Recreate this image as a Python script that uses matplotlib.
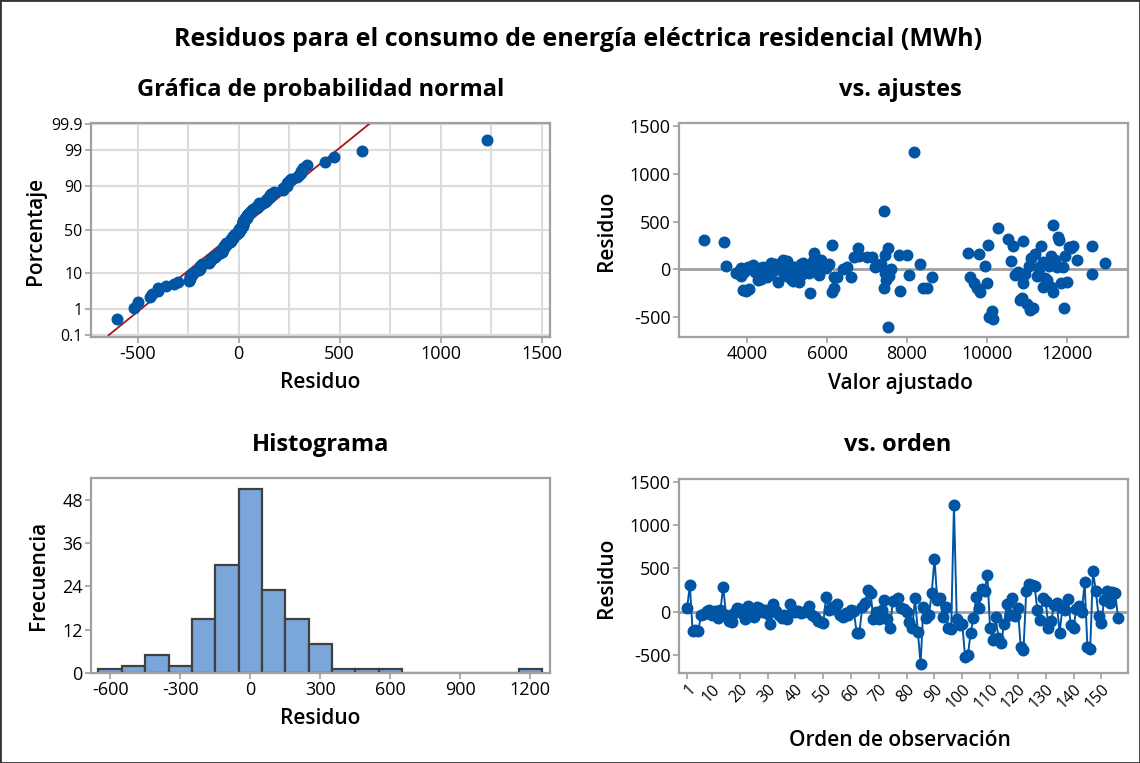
import matplotlib
matplotlib.use("Agg")
import matplotlib.pyplot as plt
import numpy as np
from statistics import NormalDist
from matplotlib.patches import Rectangle

plt.rcParams["font.family"] = ["Open Sans", "DejaVu Sans"]
plt.rcParams["axes.unicode_minus"] = False

residuals = [
    40, 310, -220, -210, -225, -40, -20, 10, 20, -30, 15, -70,
    20, 290, -30, -100, -115, -10, 45, 30, -20, -80, 70, 10,
    -60, 60, 40, 0, 20, -20, -135, 95, 10, -30, -70, -40,
    -80, 90, 20, 0, 10, -10, 0, 20, 65, -30, -60, -100,
    -120, -130, 175, 20, 55, 30, 90, -40, -55, -10, -40, 20,
    10, -245, -240, 55, 100, 255, 220, -80, 0, -80, 20, 135,
    -80, -190, 130, 140, 155, 45, 30, 0, -115, -190, 155, -230,
    -600, 55, -70, -40, 220, 610, 135, 155, -60, 60, -190, -195,
    1230, -80, -145, -140, -520, -500, -240, -75, 175, 40, 260, 240,
    430, -190, -320, -60, -300, -360, -140, 90, -30, 160, -45, 40,
    -400, -440, 240, 320, 310, 300, 20, -90, 160, 120, -180, -110,
    80, 100, -240, 40, 20, 145, -145, -180, 30, 70, 0, 340,
    -400, -430, 470, 245, -45, -130, 140, 240, 100, 230, 220, -70,
]

fitted = [
    3470, 2920, 3890, 4050, 3960, 3720, 3780, 3850, 4010, 3920, 4110, 3830,
    4080, 3400, 4200, 4350, 4270, 3950, 4150, 4400, 4230, 4480, 4600, 4320,
    4550, 4700, 4650, 4380, 4820, 4500, 4760, 4900, 4850, 4620, 5000, 4950,
    5100, 4980, 5150, 4780, 5250, 5050, 5300, 5200, 5400, 4900, 5350, 5080,
    5150, 5300, 5680, 5600, 5350, 5520, 5650, 5420, 5800, 5700, 5550, 5900,
    5980, 5570, 6110, 6050, 5850, 6130, 6780, 6250, 6400, 6180, 6500, 7120,
    6600, 6175, 6660, 6800, 7460, 7300, 7200, 7600, 7480, 7420, 7800, 7826,
    7530, 7350, 7550, 7450, 7530, 7420, 7000, 7990, 8040, 8330, 8390, 8500,
    8175, 8630, 9690, 10010, 10150, 10050, 9830, 9570, 9530, 9950, 10040, 10650,
    10290, 9760, 10830, 10700, 10880, 11000, 10900, 10600, 10780, 9810, 10950, 11050,
    11160, 10120, 11350, 10540, 11820, 10900, 11300, 11450, 11200, 11100, 11600, 11500,
    11400, 11700, 11650, 11550, 11750, 11620, 11850, 11400, 11900, 12960, 11300, 11780,
    11940, 11080, 11660, 12165, 12650, 12000, 11950, 12650, 12260, 12070, 12100, 11250,
]

observation = list(range(1, len(residuals) + 1))
hist_edges = list(range(-650, 1251, 100))
prob_ticks = [0.1, 1, 10, 50, 90, 99, 99.9]
prob_labels = ["0.1", "1", "10", "50", "90", "99", "99.9"]
order_ticks = [1, 10, 20, 30, 40, 50, 60, 70, 80, 90, 100, 110, 120, 130, 140, 150]

BLUE = "#0055A5"
RED = "#A3161B"
FRAME = "#A0A0A0"
GRID = "#DCDCDC"
BAR = "#7BA6DA"
MS = 7.6


def style_axes(ax):
    for sp in ax.spines.values():
        sp.set_color(FRAME)
        sp.set_linewidth(1.6)
    ax.tick_params(axis="both", colors=FRAME, labelcolor="black",
                   labelsize=13, length=4, width=1.2, pad=2)


fig = plt.figure(figsize=(11.4, 7.63), dpi=100)
W, H = 1140, 763


def px_axes(left, top, right, bottom):
    return fig.add_axes([left / W, 1 - bottom / H, (right - left) / W, (bottom - top) / H])


# --- grafica de probabilidad normal ---
ax1 = px_axes(91, 123, 550, 337)
style_axes(ax1)
nd = NormalDist()
res_sorted = np.sort(residuals)
n = len(res_sorted)
pct = (np.arange(1, n + 1) - 0.3) / (n + 0.4)
z = np.array([nd.inv_cdf(p) for p in pct])
mu = np.mean(residuals)
sd = np.std(residuals, ddof=1)
zl = np.array([nd.inv_cdf(0.001), nd.inv_cdf(0.999)])
ax1.plot(mu + zl * sd, zl, color=RED, lw=1.3, zorder=2)
ax1.plot(res_sorted, z, "o", color=BLUE, ms=MS, mec=BLUE, zorder=3)
ax1.set_xlim(-731, 1542)
ax1.set_ylim(-3.14, 3.12)
ax1.set_xticks([-500, 0, 500, 1000, 1500])
ax1.set_xticks([-250, 250, 750, 1250], minor=True)
ax1.tick_params(axis="x", which="minor", length=0)
ax1.set_yticks([nd.inv_cdf(p / 100) for p in prob_ticks])
ax1.set_yticklabels(prob_labels, fontsize=11.5)
ax1.grid(True, which="both", color=GRID, lw=1.5, zorder=0)
ax1.set_axisbelow(True)

# --- vs. ajustes ---
ax2 = px_axes(679, 123, 1128, 337)
style_axes(ax2)
ax2.axhline(0, color=FRAME, lw=2, zorder=1)
ax2.plot(fitted, residuals, "o", color=BLUE, ms=MS, mec=BLUE, zorder=3)
ax2.set_xlim(2284, 13541)
ax2.set_ylim(-709, 1535)
ax2.set_xticks([4000, 6000, 8000, 10000, 12000])
ax2.set_yticks([-500, 0, 500, 1000, 1500])

# --- histograma ---
ax3 = px_axes(91, 478, 550, 673)
style_axes(ax3)
ax3.hist(residuals, bins=hist_edges, color=BAR, edgecolor="#404040", linewidth=1.6, zorder=2)
ax3.set_xlim(-682, 1284)
ax3.set_ylim(0, 54.1)
ax3.set_xticks([-600, -300, 0, 300, 600, 900, 1200])
ax3.set_yticks([0, 12, 24, 36, 48])

# --- vs. orden ---
ax4 = px_axes(679, 479, 1128, 673)
style_axes(ax4)
ax4.axhline(0, color=FRAME, lw=2, zorder=1)
ax4.plot(observation, residuals, "-o", color=BLUE, lw=1.4, ms=MS, mec=BLUE, zorder=3)
ax4.set_xlim(-1.9, 159.6)
ax4.set_ylim(-703, 1530)
ax4.set_xticks(order_ticks)
ax4.set_xticklabels([str(t) for t in order_ticks], rotation=45, ha="right",
                    rotation_mode="anchor", fontsize=11.5)
ax4.set_yticks([-500, 0, 500, 1000, 1500])

# --- textos ---
def ftxt(x, y, s, **kw):
    fig.text(x / W, 1 - y / H, s, ha="center", va="center", **kw)


ftxt(578, 40, "Residuos para el consumo de energía eléctrica residencial (MWh)",
     fontsize=18, fontweight="bold")
ftxt(321, 90, "Gráfica de probabilidad normal", fontsize=17, fontweight="bold")
ftxt(900, 90, "vs. ajustes", fontsize=17, fontweight="bold")
ftxt(321, 445, "Histograma", fontsize=17, fontweight="bold")
ftxt(898, 445, "vs. orden", fontsize=17, fontweight="bold")

LAB = dict(fontsize=15, fontweight="semibold")
ftxt(320, 383, "Residuo", **LAB)
ftxt(900, 383, "Valor ajustado", **LAB)
ftxt(320, 718, "Residuo", **LAB)
ftxt(900, 740, "Orden de observación", **LAB)
ftxt(35, 231, "Porcentaje", rotation=90, **LAB)
ftxt(606, 231, "Residuo", rotation=90, **LAB)
ftxt(38, 575, "Frecuencia", rotation=90, **LAB)
ftxt(606, 578, "Residuo", rotation=90, **LAB)

fig.patches.append(Rectangle((0, 0), 1, 1, transform=fig.transFigure, fill=False,
                             edgecolor="#333333", lw=2))

fig.savefig("out.png", dpi=100)
